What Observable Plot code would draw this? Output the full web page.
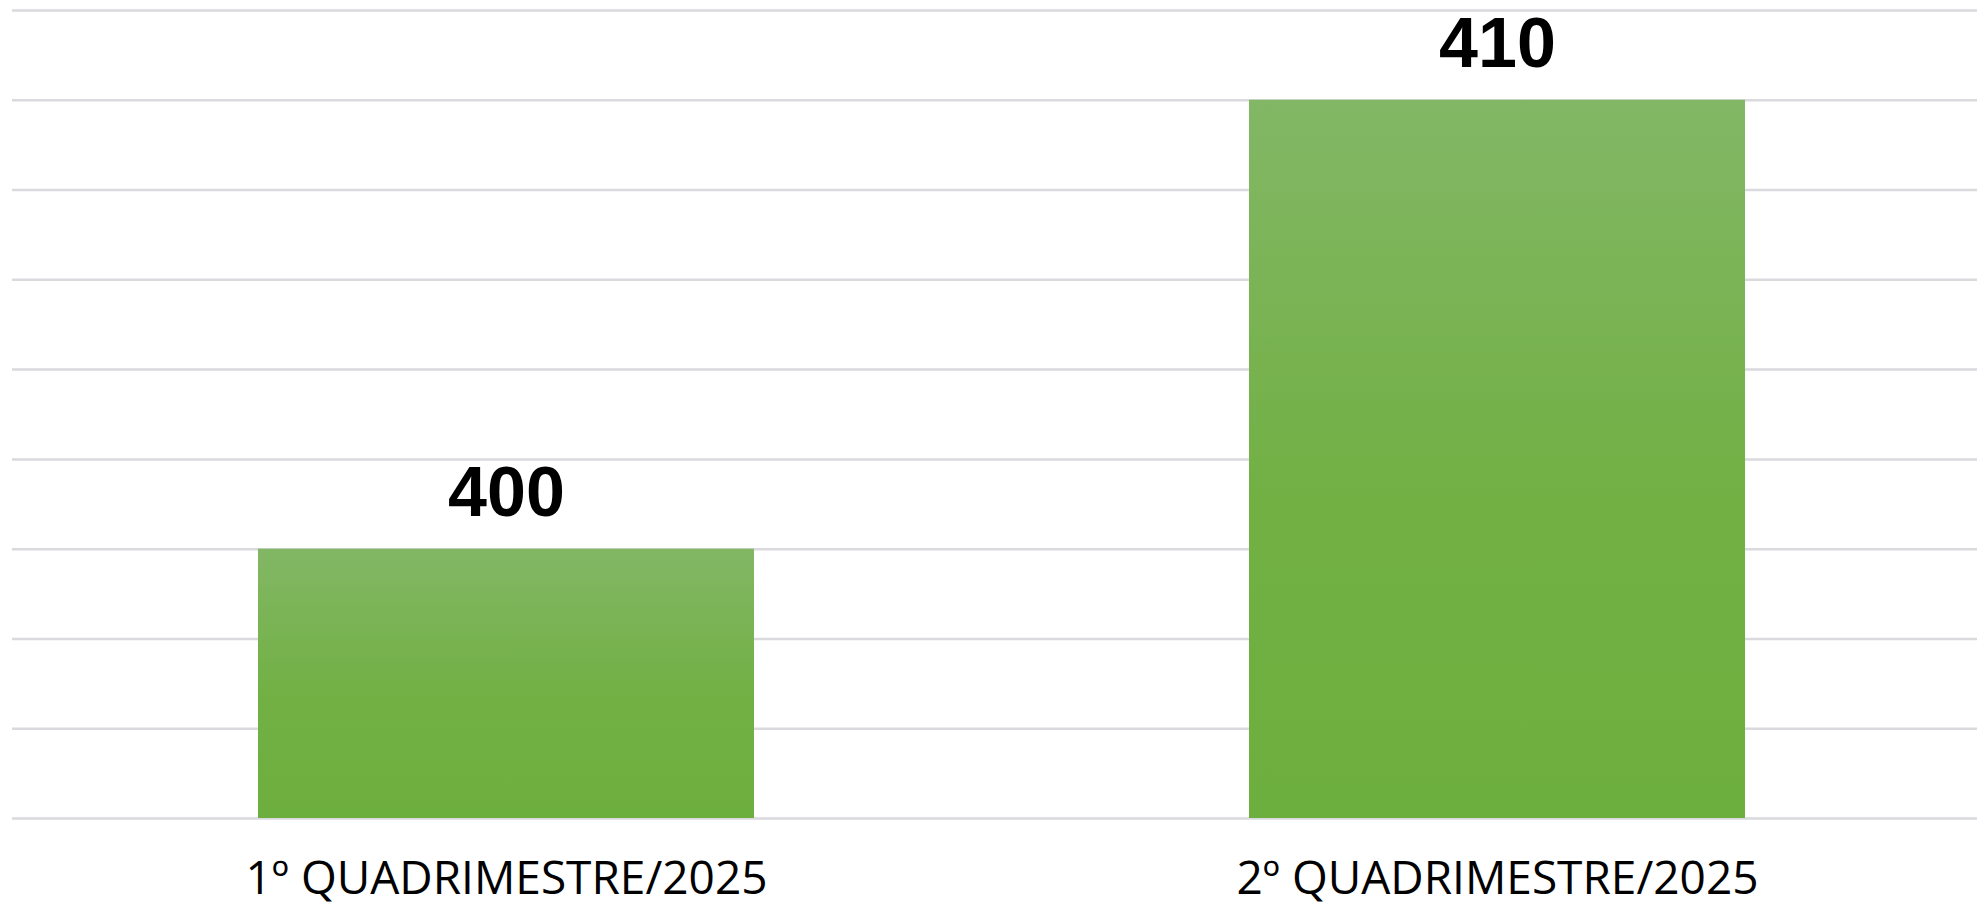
<!DOCTYPE html>
<html>
<head>
<meta charset="utf-8">
<script src="https://cdn.jsdelivr.net/npm/d3@7"></script>
<script src="https://cdn.jsdelivr.net/npm/@observablehq/plot@0.6"></script>
<style>
  html, body { margin: 0; padding: 0; background: #ffffff; }
  #chart svg { display: block; }
</style>
</head>
<body>
<div id="chart"></div>
<script>
const categories = ["1º QUADRIMESTRE/2025", "2º QUADRIMESTRE/2025"];
const values = [400, 410];
const yMin = 394;
const yMax = 412;
const yTicks = [394, 396, 398, 400, 402, 404, 406, 408, 410, 412];

const data = categories.map((c, i) => ({category: c, value: values[i]}));

const defsMark = () => {
  const defs = d3.create("svg:defs");
  const g = defs.append("linearGradient")
    .attr("id", "barGrad")
    .attr("x1", 0).attr("y1", 0).attr("x2", 0).attr("y2", 1);
  g.append("stop").attr("offset", "0%").attr("stop-color", "#82b765");
  g.append("stop").attr("offset", "55%").attr("stop-color", "#72b044");
  g.append("stop").attr("offset", "100%").attr("stop-color", "#6daf3e");
  return defs.node();
};

const chart = Plot.plot({
  width: 1977,
  height: 908,
  marginLeft: 12,
  marginRight: 0,
  marginTop: 10,
  marginBottom: 90,
  style: {background: "#ffffff", overflow: "visible"},
  x: {
    domain: categories,
    range: [10, 1992],
    paddingInner: 0.5,
    paddingOuter: 0.25,
    label: null
  },
  y: {domain: [yMin, yMax], axis: null},
  marks: [
    defsMark,
    Plot.gridY(yTicks, {stroke: "#d9d9de", strokeOpacity: 1, strokeWidth: 2.5}),
    Plot.barY(data, {x: "category", y1: yMin, y2: "value", fill: "url(#barGrad)"}),
    Plot.text(data, {
      x: "category", y: "value", text: d => String(d.value),
      dy: -33, lineAnchor: "bottom", textAnchor: "middle",
      fontSize: 70, fontWeight: "bold", fontFamily: "Liberation Sans", fill: "#000000"
    }),
    Plot.axisX({
      tickSize: 0, tickPadding: 43, fontSize: 46,
      fontFamily: "Open Sans", fill: "#000000", label: null
    })
  ]
});

document.getElementById("chart").appendChild(chart);
</script>
</body>
</html>
